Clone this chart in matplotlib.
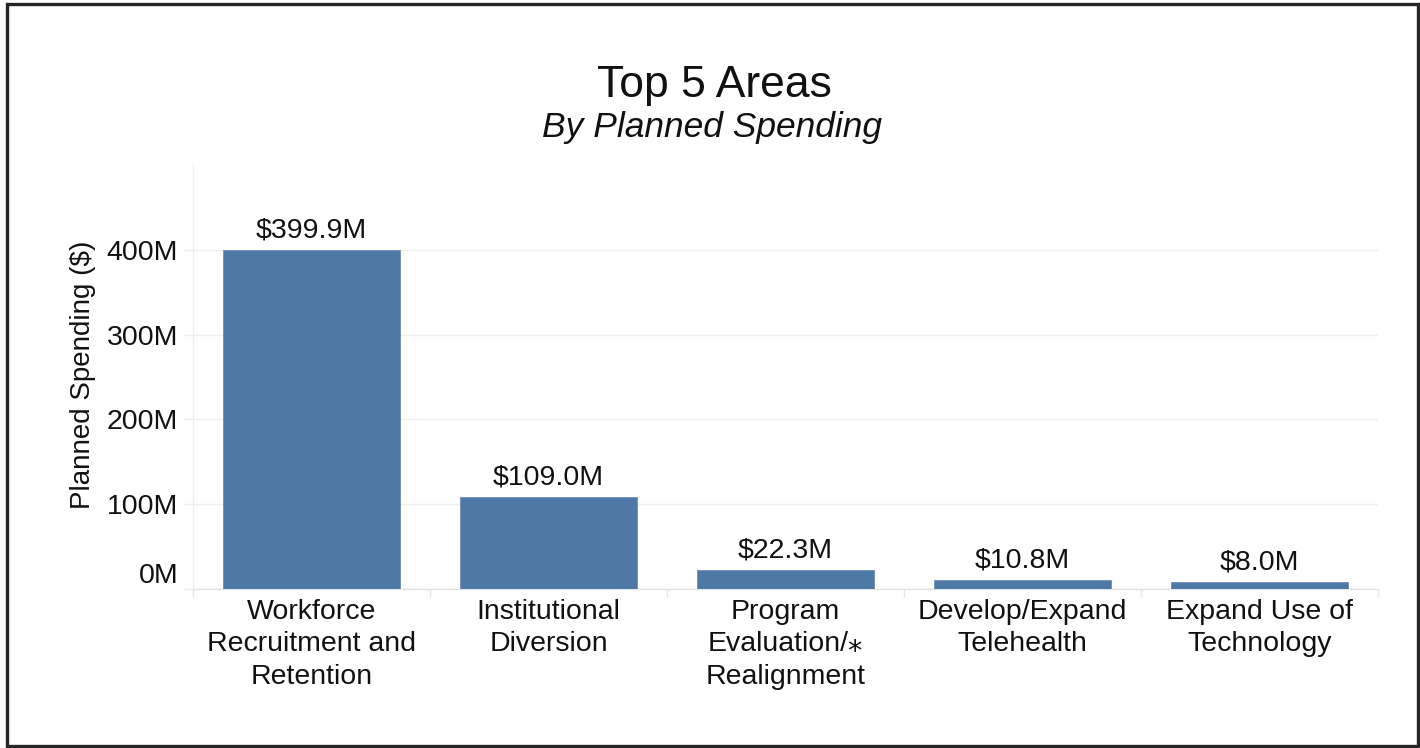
import matplotlib
matplotlib.use("Agg")
import matplotlib.pyplot as plt
from matplotlib.patches import Rectangle
from matplotlib.ticker import FixedLocator, FuncFormatter

# Planned spending by area (millions of dollars)
categories = [
    "Workforce\nRecruitment and\nRetention",
    "Institutional\nDiversion",
    "Program\nEvaluation/\u204e\nRealignment",
    "Develop/Expand\nTelehealth",
    "Expand Use of\nTechnology",
]
spending_m = [399.9, 109.0, 22.3, 10.8, 8.0]
y_ticks = [0, 100, 200, 300, 400]

title = "Top 5 Areas"
subtitle = "By Planned Spending"
y_label = "Planned Spending ($)"

plt.rcParams["font.family"] = ["Liberation Sans", "DejaVu Sans"]

W, H = 1420, 748
fig = plt.figure(figsize=(W / 100, H / 100), dpi=100)
fig.patch.set_facecolor("white")

# plot area in pixel terms
left, right, top, bottom = 193, 1378, 165, 589
ax = fig.add_axes([left / W, (H - bottom) / H, (right - left) / W, (bottom - top) / H])

bar_color = "#4e79a7"
x = list(range(len(categories)))
ax.bar(x, spending_m, width=0.75, color=bar_color, edgecolor="#6d8fb8",
       linewidth=0.6, zorder=3)

ax.set_xlim(-0.5, len(categories) - 0.5)
ax.set_ylim(0, 500)

label_size = 20.5

# value labels above bars
for xi, v in zip(x, spending_m):
    ax.annotate(f"${v:.1f}M", xy=(xi, v), xytext=(0, 9), textcoords="offset points",
                ha="center", va="baseline", fontsize=label_size, color="#111111")

# y axis
ax.yaxis.set_major_locator(FixedLocator(y_ticks))
ax.yaxis.set_major_formatter(FuncFormatter(lambda v, p: f"{v:.0f}M"))
ax.tick_params(axis="y", which="major", length=7.2, width=1, color="#ececec",
               labelsize=label_size, pad=3.5, labelcolor="#111111")
ax.grid(axis="y", color="#efefef", linewidth=1, zorder=0)

# x axis: labels at bar centers, divider ticks at category boundaries
ax.set_xticks(x)
ax.set_xticklabels(categories, linespacing=1.33)
ax.tick_params(axis="x", which="major", length=0, labelsize=label_size, pad=7,
               labelcolor="#111111")
ax.set_xticks([i - 0.5 for i in range(len(categories) + 1)], minor=True)
ax.tick_params(axis="x", which="minor", length=5.5, width=1, color="#e6e6e6")

for s in ["top", "right"]:
    ax.spines[s].set_visible(False)
ax.spines["left"].set_color("#eeeeee")
ax.spines["bottom"].set_color("#e4e4e4")
ax.spines["left"].set_linewidth(1)
ax.spines["bottom"].set_linewidth(1)

fig.canvas.draw()
# lowest tick label sits above its gridline
zero_tick = ax.yaxis.get_major_ticks()[0]
zero_tick.label1.set_verticalalignment("bottom")

# titles
fig.text(714.5 / W, (H - 97) / H, title, ha="center", va="baseline",
         fontsize=32, color="#111111")
fig.text(712 / W, (H - 137) / H, subtitle, ha="center", va="baseline",
         fontsize=25.5, style="italic", color="#111111")

fig.text(83 / W, (H - 375) / H, y_label, ha="center", va="center",
         rotation=90, fontsize=20, color="#111111")

# outer frame
fig.patches.append(Rectangle((7 / W, 2 / H), (1418 - 7) / W, (745 - 3) / H,
                             transform=fig.transFigure, fill=False,
                             edgecolor="#262626", linewidth=2.4))

fig.savefig("out.png", dpi=100)
